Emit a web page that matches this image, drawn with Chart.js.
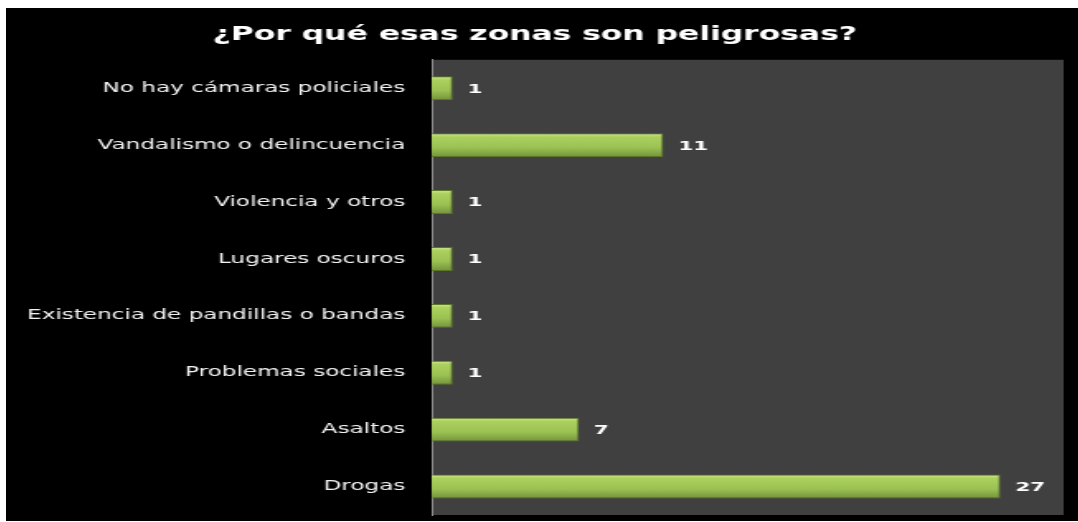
<!DOCTYPE html>
<html>
<head>
<meta charset="utf-8">
<script src="https://cdn.jsdelivr.net/npm/chart.js@4/dist/chart.umd.min.js"></script>
<style>
  html, body { margin: 0; padding: 0; background: #fff; overflow: hidden; }
  #wrap {
    position: absolute; left: 6px; top: 8px;
    width: 650px; height: 513px;
    transform: scaleX(1.65); transform-origin: 0 0;
  }
  canvas { background: #000; display: block; }
</style>
</head>
<body>
<div id="wrap"><canvas id="bar-chart" width="650" height="513"></canvas></div>
<script>
const titleText = "¿Por qué esas zonas son peligrosas?";
const categories = [
  "No hay cámaras policiales",
  "Vandalismo o delincuencia",
  "Violencia y otros",
  "Lugares oscuros",
  "Existencia de pandillas o bandas",
  "Problemas sociales",
  "Asaltos",
  "Drogas",
];
const counts = [1, 11, 1, 1, 1, 1, 7, 27];
const axisMax = 30;

// gray plot area behind the bars
const plotBackground = {
  id: "plotBackground",
  beforeDraw(chart) {
    const { ctx, chartArea: a } = chart;
    ctx.save();
    ctx.fillStyle = "#404040";
    ctx.fillRect(a.left, a.top, a.right - a.left, a.bottom - a.top);
    ctx.restore();
  },
};

// value labels right of each bar
const valueLabels = {
  id: "valueLabels",
  afterDatasetsDraw(chart) {
    const ctx = chart.ctx;
    const meta = chart.getDatasetMeta(0);
    ctx.save();
    ctx.font = "bold 13px 'DejaVu Sans'";
    ctx.fillStyle = "#ffffff";
    ctx.textBaseline = "middle";
    meta.data.forEach((bar, i) => {
      ctx.fillText(String(counts[i]), bar.x + 9, bar.y + 1);
    });
    ctx.restore();
  },
};

const barFill = (c) => {
  const chart = c.chart;
  const y = chart.scales.y;
  if (!chart.chartArea || !y || c.dataIndex === undefined) return "#9bbb59";
  const mid = y.getPixelForValue(c.dataIndex);
  const g = chart.ctx.createLinearGradient(0, mid - 12, 0, mid + 12);
  g.addColorStop(0, "#d0ea8a");
  g.addColorStop(0.16, "#abd05e");
  g.addColorStop(0.6, "#9bc153");
  g.addColorStop(1, "#74923a");
  return g;
};

const chartElement = document.querySelector("#bar-chart");
const chart = new Chart(chartElement, {
  type: "bar",
  data: {
    labels: categories,
    datasets: [
      {
        data: counts,
        backgroundColor: barFill,
        borderColor: "#5c7529",
        borderWidth: 1,
        borderSkipped: "left",
        categoryPercentage: 1,
        barPercentage: 0.42,
      },
    ],
  },
  options: {
    indexAxis: "y",
    responsive: false,
    animation: false,
    layout: { autoPadding: false, padding: { left: 0, right: 9, top: 0, bottom: 6 } },
    plugins: {
      legend: { display: false },
      tooltip: { enabled: false },
      title: {
        display: true,
        text: titleText,
        color: "#ffffff",
        font: { family: "DejaVu Sans", size: 19, weight: "bold" },
        padding: { top: 16, bottom: 13 },
      },
    },
    scales: {
      x: { display: false, min: 0, max: axisMax },
      y: {
        grid: { display: false, drawTicks: false },
        border: { display: true, color: "#8c8c8c", width: 1 },
        ticks: {
          color: "#f2f2f2",
          padding: 16,
          font: { family: "DejaVu Sans", size: 14 },
        },
        afterFit(scale) {
          scale.width = 258;
          scale.paddingTop = 0;
          scale.paddingBottom = 0;
        },
      },
    },
  },
  plugins: [plotBackground, valueLabels],
});
</script>
</body>
</html>
